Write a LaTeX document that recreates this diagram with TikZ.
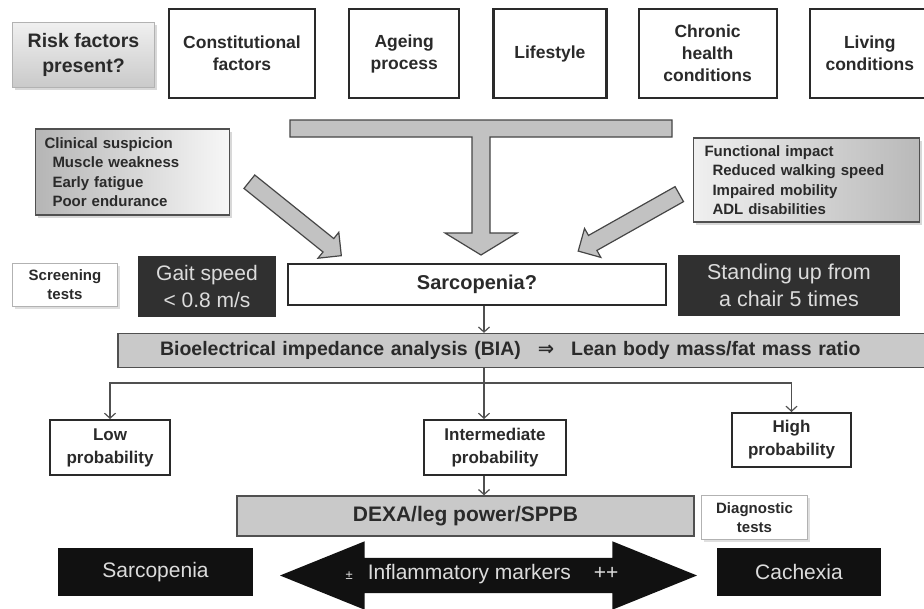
\documentclass[tikz,border=0pt]{standalone}
\usepackage{fontspec}
\setmainfont{Liberation Sans}
\newfontfamily\simbolo{DejaVu Sans}
\usepackage{tikz}
\usetikzlibrary{arrows.meta,positioning,calc,shapes.arrows,shadows}
\definecolor{borda}{HTML}{2A2A2A}
\definecolor{cinza}{HTML}{505050}
\definecolor{barracor}{HTML}{C9C9C9}
\definecolor{blococor}{HTML}{C2C2C2}
\definecolor{escuro}{HTML}{303030}
\definecolor{preto}{HTML}{111111}
\definecolor{claro}{HTML}{DCDCDC}
\newcommand{\tam}[2]{\fontsize{#1}{#2}\selectfont}

\begin{document}
\begin{tikzpicture}[x=1pt, y=-1pt,
  >={Straight Barb[length=5pt,width=11pt]},
  caixa/.style={draw=borda, line width=2.2pt, fill=white, align=center,
                font={\bfseries\tam{17.5}{22}}, text=borda, inner sep=2pt},
  fator/.style={caixa, minimum height=89pt},
  prob/.style={caixa, line width=2pt, minimum height=55pt, font={\bfseries\tam{17}{23}}},
  quadro/.style={draw=cinza, line width=1.4pt, align=left, text=borda,
                 font={\bfseries\tam{15}{19.5}}, drop shadow={opacity=.3}},
  teste/.style={draw=gray!60, line width=1.2pt, fill=white, align=center,
                font={\bfseries\tam{15}{19}}, text=borda, drop shadow={opacity=.25}},
  escura/.style={fill=escuro, text=claro, align=center, font=\tam{21}{27}, minimum height=61pt},
  preta/.style={fill=preto, text=claro, font=\tam{21}{24}, minimum height=48pt},
  barra/.style={draw=cinza, line width=1.4pt, fill=barracor, text=borda},
  bloco/.style={draw=gray!55!black, line width=1.2pt, fill=blococor},
  grossa/.style={bloco, single arrow, inner xsep=0pt, inner ysep=8pt,
                 single arrow head extend=8pt},
  dupla/.style={fill=preto, double arrow, inner xsep=0pt, inner ysep=17.5pt,
                double arrow head extend=16.5pt, double arrow tip angle=44},
  seta/.style={->, line width=1.2pt, draw=cinza}]

  \fill[white] (0,0) rectangle (924,608);
  \useasboundingbox (0,0) rectangle (924,608);

  % fatores de risco
  \node[draw=gray!60, line width=1.2pt, top color=gray!12, bottom color=gray!42,
        minimum width=142pt, minimum height=65pt, align=center, text=borda,
        font={\bfseries\tam{19.5}{25}}, drop shadow={opacity=.3}] (rf) at (83.5,55) {Risk factors\\present?};
  \node[fator, minimum width=146pt] (cf) at (242,53.5) {Constitutional\\factors};
  \node[fator, minimum width=110pt, right=32pt of cf] (ap) {Ageing\\process};
  \node[fator, minimum width=113pt, right=32pt of ap] (ls) {Lifestyle};
  \node[fator, minimum width=138pt, right=30pt of ls] (ch) {Chronic\\health\\conditions};
  \node[fator, minimum width=120pt, right=31pt of ch] (lc) {Living\\conditions};

  % suspeita e impacto
  \node[quadro, left color=gray!58, right color=gray!6, inner xsep=9pt,
        text width=176pt, minimum height=86pt] (cs) at (132.5,172)
        {Clinical suspicion\\ \hspace*{8pt}Muscle weakness\\ \hspace*{8pt}Early fatigue\\ \hspace*{8pt}Poor endurance};
  \node[quadro, left color=gray!12, right color=gray!55, inner xsep=11pt,
        text width=204pt, minimum height=84pt] (fi) at (806.5,180)
        {Functional impact\\ \hspace*{8pt}Reduced walking speed\\ \hspace*{8pt}Impaired mobility\\ \hspace*{8pt}ADL disabilities};

  % setas grossas
  \draw[bloco] (290,120) -- (672,120) -- (672,137) -- (490,137) -- (490,233)
    -- (517,233) -- (481,255) -- (445,233) -- (472,233) -- (472,137)
    -- (290,137) -- cycle;
  \coordinate (e1) at (246,179);
  \coordinate (p1) at (338,253);
  \coordinate (e2) at (683,192);
  \coordinate (p2) at (582,249);
  \node[grossa, minimum height=118pt, rotate=-38.8] (g1) at ($(e1)!.5!(p1)$) {};
  \node[grossa, minimum height=116pt, rotate=-150.6] (g2) at ($(e2)!.5!(p2)$) {};

  % triagem
  \node[teste, minimum width=105pt, minimum height=43pt] (st) at (65,285) {Screening\\tests};
  \node[escura, minimum width=138pt] (gs) at (207,286) {Gait speed\\< 0.8 m/s};
  \node[caixa, line width=1.6pt, minimum width=378pt, minimum height=41pt,
        font={\bfseries\tam{20}{24}}] (sq) at (477,284.5) {Sarcopenia?};
  \node[escura, minimum width=222pt, font=\tam{21.5}{27}] (su) at (789,285.5) {Standing up from\\a chair 5 times};

  \node[barra, inner xsep=42pt, text width=738pt, minimum height=34pt, align=left,
        font={\bfseries\tam{19.5}{22}}] (bia) at (529,350.5)
        {Bioelectrical impedance analysis (BIA)\hspace{17pt}{\simbolo ⇒}\hspace{17pt}Lean body mass/fat mass ratio};

  % probabilidades
  \node[prob, minimum width=120pt] (lo) at (110,447.5) {Low\\probability};
  \node[prob, minimum width=142pt] (im) at (495,447.5) {Intermediate\\probability};
  \node[prob, minimum width=119pt, minimum height=54pt] (hi) at (791.5,440) {High\\probability};

  \node[barra, minimum width=457pt, minimum height=40pt,
        font={\bfseries\tam{21}{24}}] (dx) at (465.5,516) {DEXA/leg power/SPPB};
  \node[teste, minimum width=106pt, minimum height=44pt] (dt) at (754.5,517.5) {Diagnostic\\tests};

  \node[preta, minimum width=195pt] (sa) at (155.5,572) {Sarcopenia};
  \node[preta, minimum width=164pt] (ca) at (799,572) {Cachexia};
  \node[dupla, minimum height=417pt] (infl) at (488.5,575.5) {};
  \node[text=claro, font=\tam{21}{24}] (inflt) at (482,574)
        {{\tam{13}{15}±}\hspace{15pt}Inflammatory markers\hspace{23pt}++};

  % ligacoes
  \coordinate (eixo) at (484,0);
  \coordinate (ramo) at (484,383);
  \draw[seta] (sq.south -| eixo) -- (bia.north -| eixo);
  \draw[seta] (bia.south -| ramo) -- (im.north -| ramo);
  \draw[seta] (ramo) -| (lo.north);
  \draw[seta] (ramo) -| (hi.north);
  \draw[seta] (im.south -| eixo) -- (dx.north -| eixo);
\end{tikzpicture}
\end{document}
